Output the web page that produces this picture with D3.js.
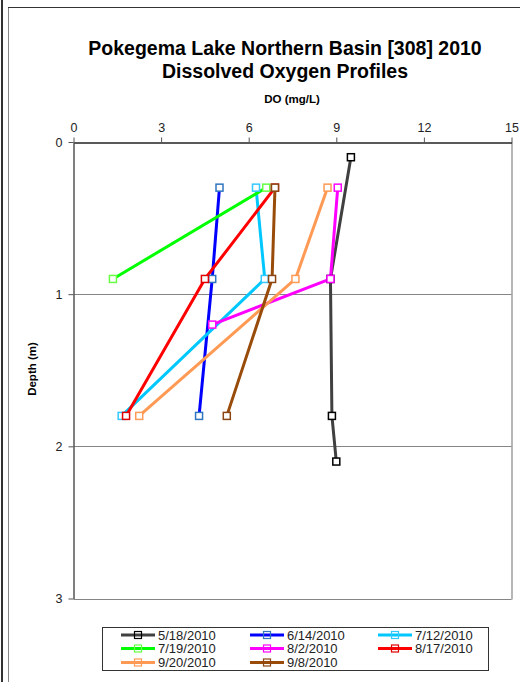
<!DOCTYPE html>
<html><head><meta charset="utf-8">
<script src="https://cdn.jsdelivr.net/npm/d3@7"></script>
<style>html,body{margin:0;padding:0;background:#fff;}svg{display:block;font-family:Arial,"Liberation Sans",sans-serif;}</style>
</head><body>
<svg id="c" width="520" height="682"></svg>
<script>
const dates = ["5/18/2010","6/14/2010","7/12/2010","7/19/2010","8/2/2010","8/17/2010","9/20/2010","9/8/2010"];
const depth0518 = [0.1, 0.9, 1.8, 2.1], do0518 = [9.5, 8.8, 8.85, 9.0];
const depth0614 = [0.3, 0.9, 1.8],      do0614 = [5.0, 4.75, 4.3];
const depth0712 = [0.3, 0.9, 1.8],      do0712 = [6.25, 6.55, 1.65];
const depth0719 = [0.3, 0.9],           do0719 = [6.6, 1.35];
const depth0802 = [0.3, 0.9, 1.2],      do0802 = [9.05, 8.8, 4.75];
const depth0817 = [0.3, 0.9, 1.8],      do0817 = [6.9, 4.5, 1.8];
const depth0920 = [0.3, 0.9, 1.8],      do0920 = [8.7, 7.6, 2.25];
const depth0908 = [0.3, 0.9, 1.8],      do0908 = [6.9, 6.8, 5.25];
const xTicks = [0, 3, 6, 9, 12, 15];
const yTicks = [0, 1, 2, 3];
const lineColors = ["#404040","#0000ff","#00c8ff","#00ff00","#ff00ff","#ff0000","#ff9a55","#994c0a"];
const markColors = ["#000000","#2f75c0","#33c8ff","#66ff44","#ff00ff","#e00000","#ff9a55","#8b4513"];

const depthsAll = [depth0518,depth0614,depth0712,depth0719,depth0802,depth0817,depth0920,depth0908];
const doAll = [do0518,do0614,do0712,do0719,do0802,do0817,do0920,do0908];
const series = dates.map((d,i)=>({name:d, pts: depthsAll[i].map((z,j)=>({z, v: doAll[i][j]})), lc: lineColors[i], mc: markColors[i]}));

const svg = d3.select("#c");
// outer frame
svg.append("line").attr("x1",2).attr("x2",2).attr("y1",0).attr("y2",682).attr("stroke","#333").attr("stroke-width",2);
svg.append("line").attr("x1",8.5).attr("x2",8.5).attr("y1",7).attr("y2",682).attr("stroke","#888").attr("stroke-width",1);
svg.append("line").attr("x1",8).attr("x2",520).attr("y1",7.5).attr("y2",7.5).attr("stroke","#333").attr("stroke-width",1.2);

const L=73.5, R=511.5, T=142, B=598.5;
const x = d3.scaleLinear().domain([0,15]).range([L,R]);
const y = d3.scaleLinear().domain([0,3]).range([T,B]);

// grid lines
svg.append("g").selectAll("line").data(yTicks.filter(t=>t>0)).join("line")
  .attr("x1",L).attr("x2",R).attr("y1",d=>Math.round(y(d))+0.5).attr("y2",d=>Math.round(y(d))+0.5)
  .attr("stroke","#858585").attr("stroke-width",1.2);
// right border
svg.append("line").attr("x1",R+0.5).attr("x2",R+0.5).attr("y1",T).attr("y2",B+1).attr("stroke","#858585").attr("stroke-width",1.2);

// top axis
const xAx = svg.append("g").attr("transform",`translate(0,${T+0.5})`)
  .call(d3.axisTop(x).tickValues(xTicks).tickSize(5).tickSizeOuter(0).tickFormat(d3.format("d")));
xAx.select(".domain").attr("stroke","#222").attr("stroke-width",1.3);
xAx.selectAll(".tick line").attr("stroke","#555");
xAx.selectAll("text").attr("font-size",12.5).attr("fill","#222").attr("font-family","Arial,'Liberation Sans',sans-serif").attr("dy","-0.2em");

// left axis
const yAx = svg.append("g").attr("transform",`translate(${L},0)`)
  .call(d3.axisLeft(y).tickValues(yTicks).tickSize(5).tickSizeOuter(0).tickFormat(d3.format("d")));
yAx.select(".domain").attr("stroke","#555").attr("stroke-width",1.5);
yAx.selectAll(".tick line").attr("stroke","#555");
yAx.selectAll("text").attr("font-size",12.5).attr("fill","#222").attr("font-family","Arial,'Liberation Sans',sans-serif").attr("x",-11);

// titles
svg.append("text").attr("x",285).attr("y",54.5).attr("text-anchor","middle").attr("font-size",19.5).attr("font-weight","bold").attr("fill","#000")
  .text("Pokegema Lake Northern Basin [308] 2010");
svg.append("text").attr("x",285).attr("y",78).attr("text-anchor","middle").attr("font-size",19.5).attr("font-weight","bold").attr("fill","#000")
  .text("Dissolved Oxygen Profiles");
svg.append("text").attr("x",292).attr("y",103).attr("text-anchor","middle").attr("font-size",11.5).attr("font-weight","bold").attr("fill","#000")
  .text("DO (mg/L)");
svg.append("text").attr("transform","translate(36,369) rotate(-90)").attr("text-anchor","middle").attr("font-size",11.5).attr("font-weight","bold").attr("fill","#000")
  .text("Depth (m)");

// series
const line = d3.line().x(d=>x(d.v)).y(d=>y(d.z));
const gS = svg.append("g");
series.forEach(s=>{
  gS.append("path").datum(s.pts).attr("d",line).attr("fill","none").attr("stroke",s.lc).attr("stroke-width",3).attr("stroke-linejoin","round");
});
series.forEach(s=>{
  gS.append("g").selectAll("rect").data(s.pts).join("rect")
    .attr("x",d=>x(d.v)-3.5).attr("y",d=>y(d.z)-3.5).attr("width",7).attr("height",7)
    .attr("fill","#fff").attr("stroke",s.mc).attr("stroke-width",1.5);
});

// legend
const lg = svg.append("g");
lg.append("rect").attr("x",102.5).attr("y",627.5).attr("width",386).attr("height",43).attr("fill","#fff").attr("stroke","#333").attr("stroke-width",1);
const colX = [121, 250, 378], rowY = [635, 648.5, 662.5];
series.forEach((s,i)=>{
  const cx = colX[i%3], cy = rowY[Math.floor(i/3)];
  lg.append("line").attr("x1",cx).attr("x2",cx+34).attr("y1",cy).attr("y2",cy).attr("stroke",s.lc).attr("stroke-width",3);
  lg.append("rect").attr("x",cx+13.5).attr("y",cy-3.5).attr("width",7).attr("height",7).attr("fill","none").attr("stroke",s.mc).attr("stroke-width",1.2);
  lg.append("text").attr("x",cx+37).attr("y",cy+4.5).attr("font-size",13).attr("fill","#222").text(s.name);
});
</script>
</body></html>
